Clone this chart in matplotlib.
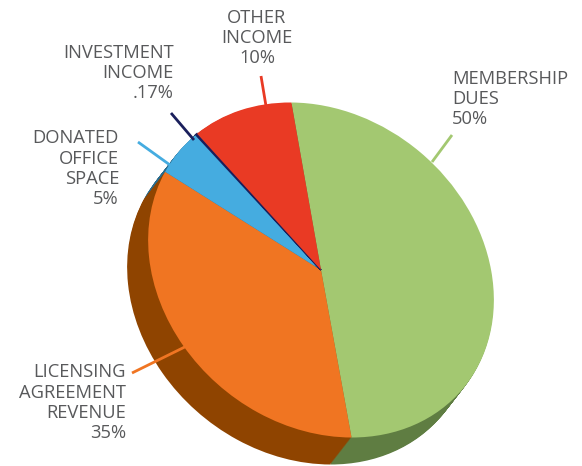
import matplotlib
matplotlib.use("Agg")
import matplotlib.pyplot as plt
from matplotlib.transforms import Affine2D

# shares clockwise from the green slice
names = ["Membership", "Licensing", "Donated", "Investment", "Other"]
shares = [50, 35, 5, 0.17, 10]
top_colors = ["#a3c871", "#f07522", "#45ace0", "#1a1f5c", "#e93a24"]
side_colors = ["#5f7d42", "#8f4400", "#2a6b8c", "#10132e", "#8f2415"]

labels = ["MEMBERSHIP\nDUES\n50%", "LICENSING\nAGREEMENT\nREVENUE\n35%", "DONATED\nOFFICE\nSPACE\n5%",
          "INVESTMENT\nINCOME\n.17%", "OTHER\nINCOME\n10%"]
label_x = [452, 126, 119, 174, 257]
label_y = [124, 438, 204, 98, 63]
label_ha = ["left", "right", "right", "right", "center"]

leader_colors = ["#a3c871", "#f07522", "#45ace0", "#1a1f5c", "#e93a24"]
leader_x = [[452, 432], [132, 205], [138, 170], [171, 194], [261, 266]]
leader_y = [[135, 162], [373, 337], [142, 165], [113, 140], [76, 106]]

plt.rcParams["font.family"] = "Open Sans"

fig = plt.figure(figsize=(5.82, 4.66), dpi=100)
ax = fig.add_axes([0, 0, 1, 1])

# tilted pie: unit pie squashed and turned, then stacked for the side wall
depth = 27
for i in range(depth, -1, -1):
    cols = top_colors if i == 0 else side_colors
    wedges, _ = ax.pie(shares, colors=cols, startangle=134.8, counterclock=False, radius=1, frame=True)
    tr = Affine2D().scale(185, 154).rotate_deg(-40).translate(321 - i * 21 / 27, -(270 + i))
    for w in wedges:
        w.set_linewidth(0)
        w.set_transform(tr + ax.transData)
    # the investment slice is a sliver, give it some body
    wedges[3].set_edgecolor(cols[3])
    wedges[3].set_linewidth(1.2)

ax.set_aspect("auto")
ax.set_xlim(0, 582)
ax.set_ylim(-466, 0)
ax.axis("off")

for xs, ys, c in zip(leader_x, leader_y, leader_colors):
    ax.plot(xs, [-y for y in ys], color=c, lw=2, solid_capstyle="butt")

for t, x, y, ha in zip(labels, label_x, label_y, label_ha):
    ax.text(x, -y, t, ha=ha, va="baseline", ma=ha,
            fontsize=13.2, color="#58595b", linespacing=1.16)

fig.savefig("out.png", dpi=100)
